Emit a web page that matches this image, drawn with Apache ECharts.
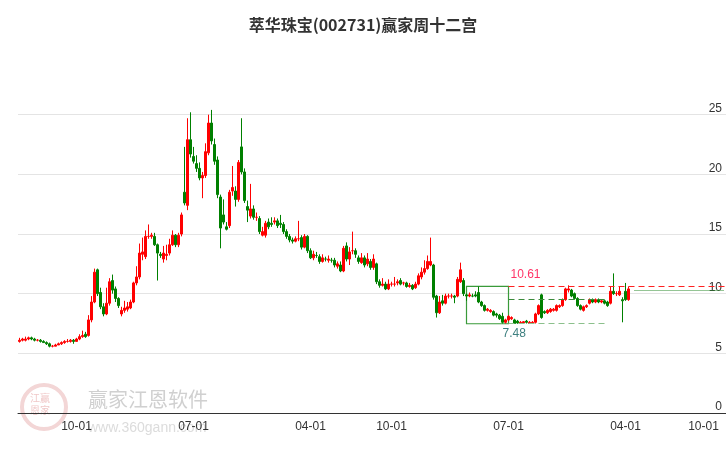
<!DOCTYPE html>
<html><head><meta charset="utf-8">
<script src="https://cdn.jsdelivr.net/npm/echarts@6/dist/echarts.min.js"></script>
<style>html,body{margin:0;padding:0;background:#fff}#c{width:726px;height:450px}</style>
</head><body><div id="c"></div>
<script>
const title = '萃华珠宝(002731)赢家周十二宫';
const startWeek = '2020-05-22';
const weekCount = 236;
const tickDates = ['2020-10-01','2021-07-01','2022-04-01','2022-10-01','2023-07-01','2024-04-01','2024-10-01'];
// [open, close, low, high] weekly
const ohlc = [
[6.0,6.1,5.9,6.3],[6.1,6.2,6.0,6.3],[6.1,6.2,6.0,6.4],[6.2,6.3,6.1,6.4],[6.3,6.2,6.1,6.4],
[6.2,6.1,6.0,6.3],[6.1,6.1,6.0,6.2],[6.1,6.0,5.9,6.2],[6.0,5.9,5.9,6.1],[5.9,5.8,5.7,6.0],
[5.8,5.6,5.5,5.9],[5.6,5.6,5.5,5.7],[5.6,5.7,5.6,5.8],[5.7,5.8,5.7,5.9],[5.8,5.9,5.7,6.0],
[5.9,6.0,5.8,6.1],[6.0,6.0,5.9,6.2],[6.0,6.1,5.9,6.2],[6.1,6.0,5.8,6.2],[6.0,6.2,6.0,6.3],
[6.2,6.4,6.1,6.6],[6.4,6.5,6.3,6.9],[6.6,6.4,6.3,6.8],[6.5,7.8,6.4,8.2],[7.8,9.3,7.6,9.8],
[9.3,11.8,9.2,12.1],[12.0,10.0,9.8,12.1],[10.1,8.9,8.7,10.5],[8.9,8.3,8.1,9.2],[8.3,9.2,8.2,10.5],
[9.2,11.0,9.0,11.3],[11.1,10.3,10.0,11.6],[10.4,9.6,9.3,10.6],[9.6,9.0,8.8,9.7],[8.3,8.6,8.1,8.9],
[8.6,8.8,8.4,9.4],[8.7,8.9,8.5,9.3],[8.8,9.3,8.7,9.5],[9.3,10.9,9.2,11.0],[10.9,11.4,10.7,12.3],
[11.4,13.4,11.2,14.2],[13.3,13.5,12.8,14.7],[13.1,14.8,12.9,15.3],[14.8,14.8,14.6,15.8],[14.8,14.9,14.6,15.1],
[14.8,14.1,14.0,15.1],[14.1,13.4,11.1,14.2],[13.3,13.2,13.0,13.5],[12.9,13.4,12.6,14.0],[13.2,13.3,12.8,14.1],
[13.4,14.1,13.2,14.6],[14.1,14.9,14.0,15.3],[14.9,14.1,13.9,15.0],[14.1,14.9,13.9,15.1],[15.0,16.6,14.8,16.8],
[18.5,17.6,17.4,22.3],[17.4,22.9,17.0,24.7],[22.9,21.7,21.4,25.2],[21.5,21.1,20.9,22.3],[20.9,20.5,20.2,21.6],
[20.5,19.7,19.5,21.0],[19.7,19.9,18.0,20.2],[19.9,21.9,19.7,22.6],[21.8,24.3,21.6,25.0],[24.3,22.8,22.5,25.4],
[22.5,21.1,20.8,23.0],[21.2,18.3,18.0,21.5],[18.1,15.5,13.8,18.3],[16.6,16.0,15.8,17.9],[15.6,15.4,15.3,16.0],
[15.7,18.5,15.5,18.7],[18.6,18.9,18.2,20.7],[18.6,17.9,17.3,19.0],[17.9,21.0,17.7,21.2],[22.3,20.2,20.0,24.7],
[20.2,17.8,17.6,20.5],[17.3,17.0,16.0,17.8],[16.5,17.1,16.3,19.2],[17.1,16.4,16.2,17.4],[16.4,16.4,16.1,16.8],
[16.3,15.2,15.0,16.5],[14.9,15.2,14.8,15.6],[14.9,15.9,14.7,16.1],[16.0,15.6,15.4,16.3],[15.9,15.8,15.6,16.4],
[16.0,16.1,15.8,16.4],[16.1,15.7,15.5,16.3],[15.9,15.8,15.5,16.6],[15.8,15.2,15.0,16.0],[15.2,14.8,14.6,15.4],
[14.8,14.5,14.3,15.0],[14.5,14.4,14.2,14.7],[14.4,14.6,14.3,14.8],[14.6,14.6,14.4,16.1],[14.7,13.9,13.7,14.9],
[13.9,14.8,13.8,15.0],[14.8,13.6,13.4,14.9],[13.6,13.0,12.9,13.8],[13.0,13.3,12.8,13.6],[13.2,13.2,13.0,13.5],
[13.1,12.7,12.5,13.3],[12.7,13.0,12.6,13.3],[12.9,12.9,12.7,13.1],[12.8,12.9,12.6,13.2],[12.8,12.8,12.6,13.0],
[12.8,12.4,12.2,13.0],[12.3,12.5,12.1,12.7],[12.4,11.9,11.8,12.7],[11.9,13.8,11.8,14.0],[14.0,12.9,12.7,14.3],
[12.9,13.5,12.4,13.9],[13.6,13.6,13.3,15.2],[13.6,13.3,13.0,13.8],[13.0,12.7,12.5,13.2],[12.6,13.0,12.5,13.4],
[13.0,12.4,12.2,13.2],[12.5,12.9,12.3,13.4],[12.7,12.2,12.0,12.9],[12.2,12.9,12.0,13.3],[12.5,11.0,10.8,12.6],
[11.0,10.7,10.5,11.2],[10.7,10.8,10.6,11.3],[10.8,10.4,10.3,11.0],[10.4,10.8,10.3,11.2],[10.8,10.8,10.6,11.0],
[10.8,10.8,10.6,11.4],[10.9,11.0,10.7,11.2],[11.1,10.8,10.7,11.3],[10.9,10.9,10.7,11.0],[10.9,10.6,10.5,11.0],
[10.6,10.7,10.5,10.9],[10.7,10.4,10.3,10.8],[10.5,10.8,10.4,11.0],[10.8,11.5,10.7,11.7],[11.4,11.8,11.2,12.2],
[11.8,12.1,11.6,12.8],[12.1,12.7,12.0,13.2],[12.4,12.7,12.3,14.7],[12.4,9.7,9.5,12.5],[9.8,8.4,8.0,9.9],
[8.4,9.3,8.3,9.8],[9.4,9.2,9.0,9.9],[9.2,9.8,9.1,10.0],[9.8,9.8,9.6,10.0],[9.8,9.8,9.6,10.0],
[9.8,9.7,9.2,9.9],[9.8,11.2,9.7,11.4],[11.0,12.0,10.9,12.6],[11.1,10.0,9.8,11.3],[9.9,9.8,9.4,10.0],
[9.8,9.9,9.7,10.1],[9.8,9.8,9.7,10.0],[9.9,9.8,9.7,10.2],[10.1,9.3,9.2,10.6],[9.3,9.0,8.9,9.4],
[9.0,8.6,8.5,9.1],[8.6,8.7,8.5,8.8],[8.5,8.6,8.4,8.7],[8.5,8.2,8.1,8.6],[8.3,8.2,8.0,8.4],
[8.2,7.9,7.8,8.3],[8.1,7.6,7.5,8.4],[7.6,7.8,7.5,7.9],[7.8,8.1,7.7,8.2],[7.9,8.0,7.8,8.1],
[7.8,7.5,7.5,7.9],[7.7,7.55,7.48,7.8],[7.5,7.6,7.5,7.7],[7.55,7.65,7.5,7.7],[7.7,7.6,7.5,7.8],
[7.5,7.6,7.5,7.7],[7.5,7.6,7.5,7.7],[7.6,8.3,7.5,8.4],[8.3,9.0,8.2,9.1],[9.9,8.0,7.9,10.0],
[8.5,8.4,8.3,8.6],[8.4,8.6,8.3,8.7],[8.5,8.7,8.4,8.8],[8.6,8.7,8.5,8.8],[8.6,9.0,8.5,9.1],
[8.9,9.0,8.8,9.1],[9.0,9.5,8.9,9.6],[9.5,10.4,9.4,10.5],[10.3,10.4,10.1,10.7],[10.3,9.8,9.7,10.4],
[10.0,9.6,9.5,10.1],[9.6,9.0,8.9,9.7],[9.0,8.7,8.6,9.1],[8.6,8.9,8.5,9.0],[8.9,9.0,8.8,9.1],
[9.2,9.5,9.1,9.6],[9.5,9.3,9.2,9.6],[9.3,9.5,9.2,9.6],[9.5,9.3,9.2,9.6],[9.3,9.4,9.2,9.5],
[9.4,9.2,9.1,9.5],[9.3,9.0,8.9,9.4],[9.2,10.2,9.1,10.6],[10.2,10.0,9.9,11.7],[10.0,10.0,9.8,10.2],
[9.9,10.2,9.8,10.6],[9.5,9.4,7.6,9.7],[10.2,9.5,9.4,10.9],[9.5,10.4,9.4,10.6]
];
const boxTop = 10.61, boxBottom = 7.48, midLevel = 9.5, lastLevel = 10.3;
const boxStart = 149, boxEnd = 163, dashEnd = 196, dotStart = 205;

const cats = [];
const d0 = new Date(startWeek + 'T00:00:00Z');
for (let i = 0; i < weekCount; i++) {
  const d = new Date(d0.getTime() + i * 7 * 86400000);
  cats.push(d.toISOString().slice(0, 10));
}
const tickIdx = {};
tickDates.forEach(t => { const k = cats.findIndex(c => c >= t); if (k >= 0) tickIdx[k] = t.slice(5); });
const showTick = (i) => tickIdx.hasOwnProperty(i);

const chart = echarts.init(document.getElementById('c'));
chart.setOption({
  animation: false,
  title: { text: title, left: 'center', top: 12, textStyle: { fontSize: 16, fontWeight: 'bold', color: '#333', fontFamily: 'Noto Sans CJK SC' } },
  graphic: [
    { type: 'circle', left: 20, top: 383, shape: { r: 22 }, style: { fill: 'rgba(0,0,0,0)', stroke: '#f3d6d6', lineWidth: 4 }, z: -1 },
    { type: 'text', left: 30, top: 392, style: { text: '江赢\n恩家', font: '10px "Noto Sans CJK SC"', fill: '#f0c8c8', lineHeight: 12 }, z: -1 },
    { type: 'text', left: 88, top: 389, style: { text: '赢家江恩软件', font: '20px "Noto Sans CJK SC"', fill: '#d0d0d0' }, z: -1 },
    { type: 'text', left: 88, top: 421, style: { text: 'www.360gann.com', font: '14px "Liberation Sans"', fill: '#dcdcdc' }, z: -1 }
  ],
  grid: { left: 18, right: 0, top: 55, bottom: 37 },
  xAxis: {
    type: 'category', data: cats, boundaryGap: true,
    axisLine: { lineStyle: { color: '#333' } },
    axisTick: { interval: (i) => showTick(i), alignWithLabel: true, length: 6, lineStyle: { color: '#333' } },
    axisLabel: { interval: (i) => showTick(i), formatter: (v, i) => tickIdx[i] || '', color: '#333', fontSize: 12, fontFamily: 'Liberation Sans' },
    splitLine: { show: false }
  },
  yAxis: {
    type: 'value', position: 'right', min: 0, max: 30, interval: 5,
    axisLine: { show: false }, axisTick: { show: false },
    axisLabel: { inside: true, verticalAlign: 'bottom', margin: 4, showMaxLabel: false, color: '#333', fontSize: 12, fontFamily: 'Liberation Sans' },
    splitLine: { showMaxLine: false, lineStyle: { color: '#e4e4e4' } }
  },
  series: [{
    type: 'candlestick', data: ohlc, barWidth: '75%',
    itemStyle: { color: '#ff0000', color0: '#008000', borderColor: '#ff0000', borderColor0: '#008000', borderWidth: 1 },
    markArea: { silent: true, itemStyle: { color: 'rgba(0,0,0,0)', borderColor: '#3a9a3a', borderWidth: 1.2 },
      data: [[{ xAxis: boxStart, yAxis: boxTop }, { xAxis: boxEnd, yAxis: boxBottom }]] },
    markLine: { silent: true, symbol: 'none', animation: false,
      data: [
        [{ xAxis: boxEnd, yAxis: boxTop, lineStyle: { color: '#ff2020', type: [6, 4], width: 1 },
           label: { show: true, position: 'insideStartTop', formatter: String(boxTop), color: '#ff3366', fontSize: 12, distance: [2, 6] } },
         { xAxis: weekCount - 1, yAxis: boxTop }],
        [{ xAxis: boxEnd, yAxis: midLevel, lineStyle: { color: '#3a8a3a', type: [6, 4], width: 1 }, label: { show: false } },
         { xAxis: dashEnd, yAxis: midLevel }],
        [{ xAxis: boxEnd, yAxis: boxBottom, lineStyle: { color: '#8cc08c', type: [6, 4], width: 1.2 },
           label: { show: true, position: 'insideStartBottom', formatter: String(boxBottom), color: '#3d7f7f', fontSize: 12, distance: [-6, 4] } },
         { xAxis: dashEnd, yAxis: boxBottom }],
        [{ xAxis: dotStart, yAxis: lastLevel, lineStyle: { color: '#2a8a2a', type: 'dotted', width: 1 }, label: { show: false } },
         { xAxis: weekCount - 1, yAxis: lastLevel }]
      ] }
  }]
});
</script></body></html>
